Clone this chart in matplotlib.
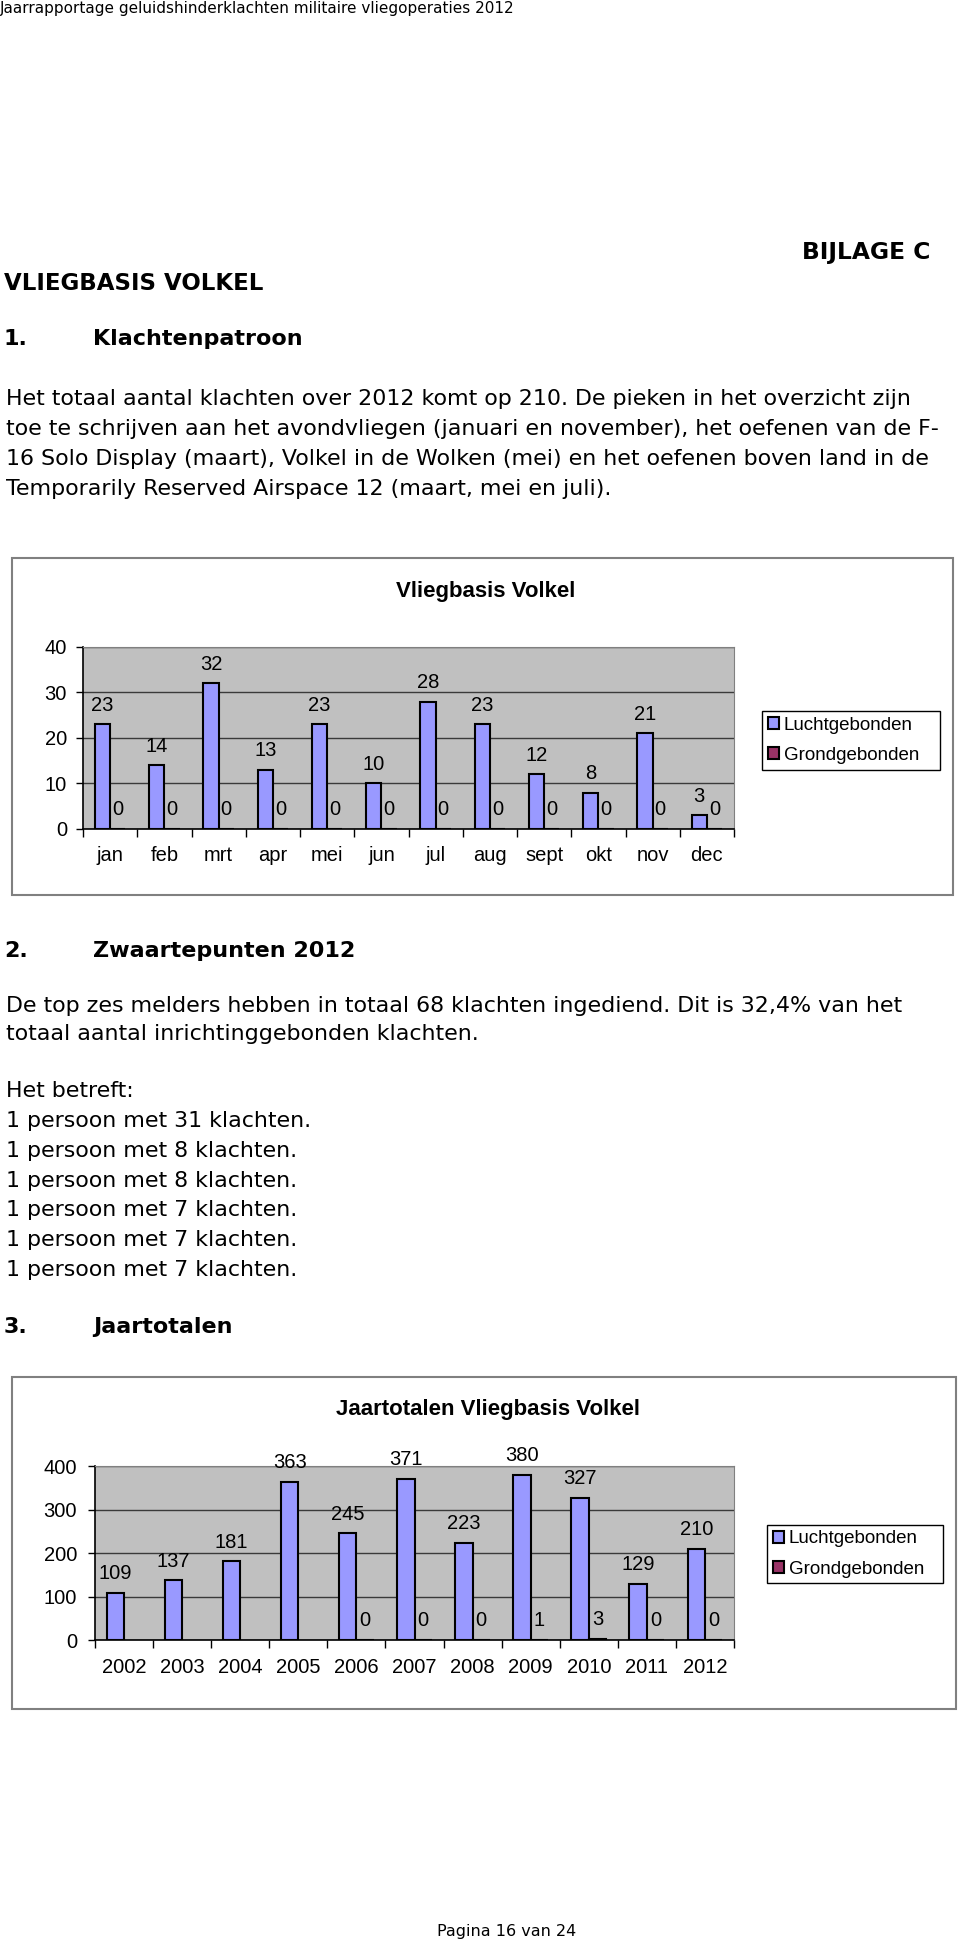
"""Page 16 of the 2012 noise complaints report: Vliegbasis Volkel."""
import matplotlib
matplotlib.use("Agg")
import matplotlib.pyplot as plt
import numpy as np
from matplotlib.patches import Rectangle

# monthly complaints 2012
months = ["jan", "feb", "mrt", "apr", "mei", "jun", "jul", "aug", "sept", "okt", "nov", "dec"]
month_lucht = [23, 14, 32, 13, 23, 10, 28, 23, 12, 8, 21, 3]
month_grond = [0, 0, 0, 0, 0, 0, 0, 0, 0, 0, 0, 0]

# yearly totals (no ground figures before 2006)
years = ["2002", "2003", "2004", "2005", "2006", "2007", "2008", "2009", "2010", "2011", "2012"]
year_lucht = [109, 137, 181, 363, 245, 371, 223, 380, 327, 129, 210]
year_grond = [np.nan, np.nan, np.nan, np.nan, 0, 0, 0, 1, 3, 0, 0]

series_names = ["Luchtgebonden", "Grondgebonden"]
top_melders = [31, 8, 8, 7, 7, 7]

intro_lines = [
    "Het totaal aantal klachten over 2012 komt op 210. De pieken in het overzicht zijn",
    "toe te schrijven aan het avondvliegen (januari en november), het oefenen van de F-",
    "16 Solo Display (maart), Volkel in de Wolken (mei) en het oefenen boven land in de",
    "Temporarily Reserved Airspace 12 (maart, mei en juli).",
]
top_lines = [
    "De top zes melders hebben in totaal 68 klachten ingediend. Dit is 32,4% van het",
    "totaal aantal inrichtinggebonden klachten.",
]

LUCHT = "#9999ff"
GROND = "#993366"
PAGE_FONT = "DejaVu Sans"
BODY = 15.9
plt.rcParams["font.family"] = ["Liberation Sans", "DejaVu Sans"]

W, H = 960, 1944
fig = plt.figure(figsize=(W / 100, H / 100), dpi=100)


def fx(x):
    return x / W


def fy(y):
    return 1 - y / H


def put(x, y, s, size=BODY, bold=False, ha="left"):
    fig.text(fx(x), fy(y), s, fontsize=size, fontweight="bold" if bold else "normal",
             ha=ha, va="center", family=PAGE_FONT)


def bar_chart(box, plot, title, title_xy, cats, lucht, grond, ymax, ystep, width, legend_box, ypad, xpad):
    x0, y0, x1, y1 = box
    fig.add_artist(Rectangle((fx(x0), fy(y1)), (x1 - x0) / W, (y1 - y0) / H, transform=fig.transFigure,
                             fill=False, edgecolor="#808080", lw=1.5))
    fig.text(fx(title_xy[0]), fy(title_xy[1]), title, fontsize=16, fontweight="bold", ha="center", va="center")

    px0, py0, px1, py1 = plot
    ax = fig.add_axes([fx(px0), fy(py1), (px1 - px0) / W, (py1 - py0) / H])
    ax.set_facecolor("#c0c0c0")
    x = np.arange(len(cats))
    lucht = np.asarray(lucht, float)
    grond = np.asarray(grond, float)
    has = ~np.isnan(grond)
    b1 = ax.bar(x - width / 2, lucht, width, color=LUCHT, edgecolor="black", linewidth=1.5,
                label=series_names[0], zorder=3)
    b2 = ax.bar(x[has] + width / 2, grond[has], width, color=GROND, edgecolor="black", linewidth=1.5,
                label=series_names[1], zorder=3)
    ax.bar_label(b1, padding=7, fontsize=14.5)
    ax.bar_label(b2, padding=7, fontsize=14.5)

    ax.set_xlim(-0.5, len(cats) - 0.5)
    ax.set_ylim(0, ymax)
    ax.set_yticks(np.arange(0, ymax + 1, ystep))
    ax.yaxis.grid(True, color="#3a3a3a", lw=1)
    ax.set_axisbelow(True)
    ax.set_xticks(x, cats)
    ax.set_xticks(np.arange(-0.5, len(cats)), minor=True)
    ax.tick_params(axis="x", which="major", length=0, pad=xpad, labelsize=14.5)
    ax.tick_params(axis="x", which="minor", length=6, width=1)
    ax.tick_params(axis="y", length=5, width=1, pad=ypad, labelsize=14.5)
    for side in ("left", "bottom"):
        ax.spines[side].set_color("black")
        ax.spines[side].set_linewidth(1.2)
    for side in ("top", "right"):
        ax.spines[side].set_color("#808080")

    lx0, ly0, lx1, ly1 = legend_box
    leg = ax.legend(handles=[b1, b2], loc="center",
                    bbox_to_anchor=(fx(lx0), fy(ly1), (lx1 - lx0) / W, (ly1 - ly0) / H),
                    bbox_transform=fig.transFigure, mode="expand", borderaxespad=0,
                    fontsize=13.5, fancybox=False, edgecolor="black", framealpha=1,
                    borderpad=0.3, labelspacing=0.7, handlelength=0.6, handleheight=0.6,
                    handletextpad=0.25)
    leg.get_frame().set_linewidth(1.0)
    return ax


# page text
put(0, 8, "Jaarrapportage geluidshinderklachten militaire vliegoperaties 2012", size=11)
put(802, 253, "BIJLAGE C", size=16.8, bold=True)
put(4, 283, "VLIEGBASIS VOLKEL", size=16.5, bold=True)
put(4, 339, "1.", size=16, bold=True)
put(93, 339, "Klachtenpatroon", size=16, bold=True)
for i, line in enumerate(intro_lines):
    put(6, 399 + 30 * i, line)

bar_chart((12, 558, 953, 895), (83, 647, 734, 829), "Vliegbasis Volkel", (486, 592),
          months, month_lucht, month_grond, 40, 10, 0.28, (762, 708, 940, 773), 6.5, 12.5)

put(4, 951, "2.", size=16, bold=True)
put(93, 951, "Zwaartepunten 2012", size=16, bold=True)
put(6, 1006, top_lines[0])
put(6, 1034, top_lines[1])
put(6, 1091, "Het betreft:")
for i, n in enumerate(top_melders):
    put(6, 1121 + 29.8 * i, f"1 persoon met {n} klachten.")
put(4, 1327, "3.", size=16, bold=True)
put(93, 1327, "Jaartotalen", size=16, bold=True)

bar_chart((12, 1377, 956, 1709), (95, 1466, 734, 1640), "Jaartotalen Vliegbasis Volkel", (488, 1409),
          years, year_lucht, year_grond, 400, 100, 0.30, (767, 1522, 943, 1586), 8, 13)

put(507, 1931, "Pagina 16 van 24", size=11.5, ha="center")

fig.savefig("out.png", dpi=100)
